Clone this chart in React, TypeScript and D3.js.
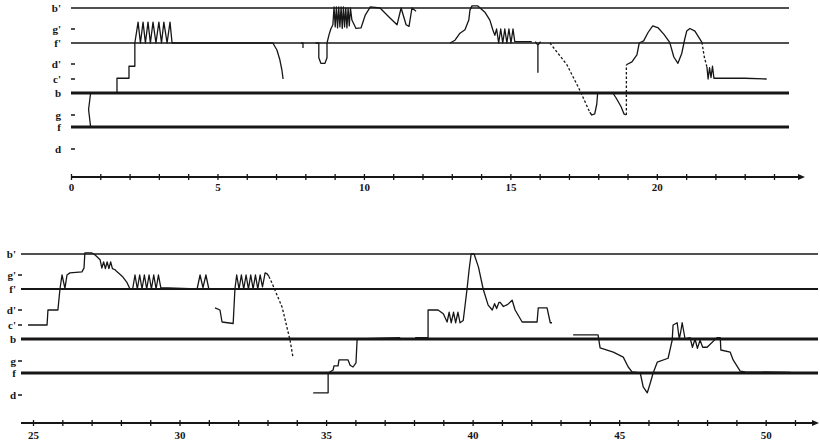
import React, { useEffect, useRef } from 'react';
import * as d3 from 'd3';

// pitch labels (left of each staff) and their midi numbers
const pitchNames = ["b'", "g'", "f'", "d'", "c'", "b", "g", "f", "d"];
const pitchValues = [71, 67, 65, 62, 60, 59, 55, 53, 50];
// pitches that get a full horizontal line
const staffPitches = [71, 65, 59, 53];

const topTickLabels = [0, 5, 10, 15, 20];
const bottomTickLabels = [25, 30, 35, 40, 45, 50];

// ---- upper trace, [time, pitch] ----
const top1 = [[0.67, 59], [0.6, 56], [0.67, 53]];
const top2 = [
    [1.57, 59], [1.57, 60.1], [1.98, 60.1], [1.98, 61.7], [2.18, 61.7], [2.18, 65],
    [2.29, 68.3], [2.37, 65], [2.46, 68.3], [2.54, 65], [2.63, 68.3], [2.71, 65],
    [2.8, 68.3], [2.9, 65], [3.0, 68.3], [3.09, 65], [3.17, 68.3], [3.28, 65],
    [3.38, 68.3], [3.45, 65], [6.89, 65], [7.03, 64], [7.13, 62.6], [7.2, 61.2], [7.24, 60],
];
const top3 = [[7.85, 65], [7.92, 65], [7.92, 64.3]];
const top4 = [
    [8.35, 65], [8.46, 65], [8.46, 62.9], [8.53, 62.1], [8.67, 62.1], [8.74, 62.9],
    [8.74, 65], [8.81, 66.2], [8.87, 67], [8.94, 67.8],
    [8.98, 71.2], [9.02, 67.4], [9.06, 71.2], [9.1, 67.2], [9.14, 71.2], [9.18, 67.4],
    [9.22, 71.2], [9.26, 67.1], [9.3, 71.2], [9.34, 67.4], [9.38, 71], [9.42, 67.2],
    [9.46, 71], [9.5, 67.6], [9.54, 71], [9.59, 68.7],
    [9.73, 67.1], [9.9, 67.2], [10.05, 69.7], [10.22, 71.2], [10.55, 71], [10.89, 69.1],
    [11.13, 67.8], [11.27, 71], [11.44, 67.8], [11.54, 67.5], [11.64, 71], [11.78, 70.4],
];
const top5 = [
    [12.94, 65], [13.11, 65.4], [13.28, 66.4], [13.45, 66.9], [13.58, 68.7], [13.62, 70.6],
    [13.69, 71.4], [13.89, 71.4], [14.13, 70.2], [14.3, 68.7], [14.4, 66.9], [14.47, 66.1],
    [14.53, 67], [14.6, 65], [14.67, 67], [14.74, 65], [14.81, 67], [14.88, 65],
    [14.95, 67], [15.02, 65], [15.09, 67], [15.15, 65.2], [15.73, 65.2],
];
const top6 = [[15.85, 65.2], [15.94, 64.7], [15.94, 60.9], [15.94, 64.7], [16.03, 65.2]];
const top7 = [[16.35, 65], [16.93, 61.9], [17.37, 59.2], [17.71, 55.5]];
const top8 = [[17.71, 55.5], [17.78, 55], [17.88, 55.2], [17.95, 57], [17.98, 59], [18.5, 59],
    [18.62, 58], [18.78, 56.5], [18.88, 55.2], [18.94, 55]];
const top9 = [[18.96, 55], [18.96, 61.9]];
const top10 = [
    [18.96, 61.9], [19.15, 62.3], [19.32, 63.3], [19.4, 65], [19.55, 65.3], [19.7, 66.5],
    [19.86, 67.6], [20.05, 67.2], [20.25, 66.2], [20.44, 65.1], [20.58, 63], [20.72, 62.1],
    [20.85, 63.5], [20.95, 65.5], [21.02, 66.7], [21.13, 67.1], [21.3, 66.7], [21.54, 65.1],
];
const top11 = [[21.54, 65.1], [21.62, 63], [21.71, 61.6]];
const top12 = [
    [21.71, 61.6], [21.75, 60], [21.8, 61.5], [21.85, 60.2], [21.9, 61.7], [21.95, 60.1],
    [22.05, 60.1], [23.0, 60.1], [23.75, 60.0],
];

// ---- lower trace ----
const bot1 = [
    [24.83, 60], [25.48, 60], [25.51, 62], [25.85, 62], [25.92, 65], [25.99, 67],
    [26.09, 65.1], [26.16, 67], [26.26, 67.4], [26.67, 67.6], [26.74, 68.3], [26.77, 71.2],
    [27.01, 71.2], [27.12, 70.8], [27.29, 69.9], [27.35, 68.3],
    [27.41, 69.5], [27.47, 68.2], [27.53, 69.5], [27.59, 68.2], [27.65, 69.5], [27.71, 68.2],
    [27.8, 68], [27.87, 67.6], [28.05, 66.8], [28.21, 65.9], [28.31, 65], [28.4, 65],
    [28.48, 67], [28.56, 65], [28.64, 67], [28.72, 65], [28.8, 67], [28.88, 65],
    [28.96, 67], [29.04, 65], [29.12, 67], [29.2, 65], [29.28, 67], [29.36, 65.2],
    [30.6, 65], [30.7, 67], [30.8, 65.2], [30.9, 67], [31.0, 65], [31.04, 65],
];
const bot2 = [
    [31.21, 62.3], [31.38, 62], [31.45, 60.4], [31.83, 60.2], [31.89, 65],
    [31.95, 67], [32.03, 65], [32.11, 67], [32.19, 65], [32.27, 67], [32.35, 65],
    [32.43, 67], [32.51, 65], [32.59, 67], [32.67, 65], [32.75, 67], [32.83, 65.3],
    [32.92, 67.4], [32.99, 67.2], [33.05, 66.8],
];
const bot3 = [[33.05, 66.8], [33.16, 65.8], [33.5, 62.4], [33.77, 58.8], [33.87, 55.7]];
const bot4 = [
    [34.56, 50.3], [35.07, 50.3], [35.07, 53], [35.24, 53.5], [35.27, 54.2], [35.41, 54.2],
    [35.44, 55.2], [35.75, 55.2], [35.82, 54.3], [35.92, 54], [36.02, 54.7], [36.06, 59],
    [37.53, 59.1],
];
const bot5 = [
    [38.04, 59.1], [38.48, 59.1], [38.48, 62], [38.82, 62], [39.0, 61.5], [39.13, 60.4],
    [39.2, 61.7], [39.27, 60.3], [39.35, 61.7], [39.42, 60.3], [39.5, 61.7], [39.57, 60.3],
    [39.68, 60.6], [39.81, 65], [39.88, 68], [39.95, 71], [40.05, 71], [40.2, 68.5],
    [40.36, 65], [40.53, 62.7], [40.67, 62], [40.75, 62.9], [40.82, 62.2], [40.9, 63.1],
    [40.94, 63.1], [41.05, 62.5], [41.2, 62.8], [41.35, 63.4], [41.45, 62], [41.69, 60.4],
    [42.2, 60.4], [42.24, 62.3], [42.54, 62.3], [42.65, 60.3], [42.71, 60.3],
];
const bot6 = [
    [43.43, 59.3], [44.28, 59.3], [44.35, 57.4], [44.8, 56.6], [45.14, 55.7], [45.31, 54],
    [45.44, 53.2], [45.72, 53], [45.82, 51.1], [45.96, 50.3], [46.06, 51.6], [46.16, 53],
    [46.3, 54.8], [46.67, 55.5], [46.81, 58.8], [46.84, 60], [46.98, 60.3], [47.05, 59],
    [47.1, 59.5], [47.15, 60.3], [47.25, 59], [47.42, 59.1], [47.5, 57.5], [47.59, 59],
    [47.67, 57.3], [47.76, 58.8], [47.85, 57.5], [48.0, 57.5], [48.34, 59.1], [48.45, 59.1],
    [48.47, 57], [48.79, 56.6], [48.89, 55.2], [49.13, 53.3], [49.3, 53.2], [50.84, 53.1],
];

const topSegments = [
    { pts: top1, dashed: false }, { pts: top2, dashed: false }, { pts: top3, dashed: false },
    { pts: top4, dashed: false }, { pts: top5, dashed: false }, { pts: top6, dashed: false },
    { pts: top7, dashed: true }, { pts: top8, dashed: false }, { pts: top9, dashed: true },
    { pts: top10, dashed: false }, { pts: top11, dashed: true }, { pts: top12, dashed: false },
];
const bottomSegments = [
    { pts: bot1, dashed: false }, { pts: bot2, dashed: false }, { pts: bot3, dashed: true },
    { pts: bot4, dashed: false }, { pts: bot5, dashed: false }, { pts: bot6, dashed: false },
];

const INK = '#161616';
const labelFont = '"Liberation Serif", "DejaVu Serif", serif';
// vertical offsets of the pitch labels below the top line of a staff
const staffOffsets = [0, 21, 35, 56, 71, 85, 107, 119, 141];

const Panel = ({ top, domain, xRange, lineX, axisY, axisX, textDy, labelX, dashX, tickLabels, segments, widths }) => {
    const axisRef = useRef(null);

    const x = d3.scaleLinear().domain(domain).range(xRange);
    const y = d3.scaleLinear().domain(pitchValues).range(staffOffsets.map(o => top + o));

    const line = d3.line()
        .x(d => x(d[0]))
        .y(d => y(d[1]));

    useEffect(() => {
        const axis = d3.axisBottom(x)
            .tickValues(d3.range(domain[0], domain[1] + 1))
            .tickSize(3)
            .tickFormat(d => tickLabels.includes(d) ? String(d) : '');

        const g = d3.select(axisRef.current).call(axis);
        g.attr('font-family', labelFont).attr('font-size', 11).attr('font-weight', 'bold');
        g.select('.domain').remove();
        g.selectAll('.tick line')
            .attr('y1', -3).attr('y2', 3)
            .attr('stroke', INK).attr('stroke-width', 1.3);
        g.selectAll('.tick text')
            .attr('y', textDy).attr('dy', 0).attr('fill', INK);
    }, []);

    return (
        <g>
            {staffPitches.map((p, i) => (
                <line key={'s' + p} x1={lineX[0]} x2={lineX[1]} y1={y(p)} y2={y(p)}
                    stroke={INK} strokeWidth={widths[i]} />
            ))}
            {pitchNames.map((name, i) => (
                <g key={name}>
                    <text x={labelX} y={y(pitchValues[i]) + 3.5} textAnchor="end"
                        fontFamily={labelFont} fontWeight="bold" fontSize={11} fill={INK}>{name}</text>
                    {!staffPitches.includes(pitchValues[i]) &&
                        <line x1={dashX} x2={dashX + 4} y1={y(pitchValues[i])} y2={y(pitchValues[i])}
                            stroke={INK} strokeWidth={1.5} />}
                </g>
            ))}
            {segments.map((s, i) => (
                <path key={i} d={line(s.pts)} fill="none" stroke={INK} strokeWidth={1.3}
                    strokeLinejoin="round" strokeDasharray={s.dashed ? '2.5,2' : null} />
            ))}
            <line x1={axisX[0]} x2={axisX[1] - 5} y1={axisY} y2={axisY} stroke={INK} strokeWidth={1.8} />
            <path d={`M${axisX[1]},${axisY} l-7,-3 l0,6 z`} fill={INK} />
            <g ref={axisRef} transform={`translate(0, ${axisY})`} />
        </g>
    );
};

const App = () => (
    <svg width={820} height={443} style={{ position: 'absolute', left: 0, top: 0, background: '#fff' }}>
        <Panel top={8} domain={[0, 24]} xRange={[71, 774]} lineX={[71, 789]}
            axisY={177} axisX={[71, 805]} textDy={14} labelX={61} dashX={71}
            tickLabels={topTickLabels} segments={topSegments} widths={[1.4, 1.5, 3, 3]} />
        <Panel top={254} domain={[25, 51]} xRange={[33, 795]} lineX={[21, 818]}
            axisY={423} axisX={[21, 819]} textDy={16} labelX={16} dashX={18}
            tickLabels={bottomTickLabels} segments={bottomSegments} widths={[1.3, 1.8, 3, 3]} />
    </svg>
);

export default App;
